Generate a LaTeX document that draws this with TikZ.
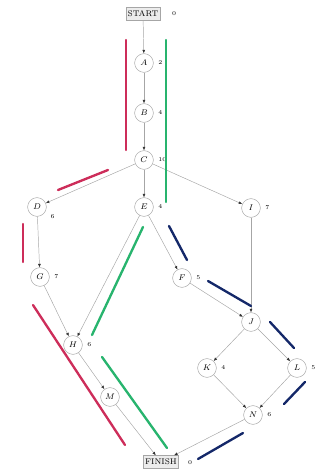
\documentclass[tikz,border=0pt]{standalone}
\usetikzlibrary{arrows.meta}
\definecolor{pathred}{RGB}{205,45,90}
\definecolor{pathgreen}{RGB}{40,180,110}
\definecolor{pathblue}{RGB}{20,40,105}
\begin{document}
\begin{tikzpicture}[x=0.03cm,y=-0.03cm,every node/.style={font=\scriptsize},
  act/.style={circle,draw=gray!70,fill=white,minimum size=16pt,inner sep=0pt},
  term/.style={rectangle,draw=gray!70,fill=gray!15,minimum height=11pt,inner sep=1.5pt,font=\scriptsize},
  dur/.style={font=\tiny,text=black,label distance=0.5pt},
  edge/.style={gray!70,thin,-{Latex[length=3pt,width=2.5pt,color=black!80]}},
  hl/.style={line width=2pt,line cap=round}]
  \useasboundingbox (0,0) rectangle (320,475);
  \node[term] (start) at (143,14) {START};
  \node[dur] at (174,14) {$0$};
  \node[act,label={[dur]right:$2$}] (A) at (144,63) {$A$};
  \node[act,label={[dur]right:$4$}] (B) at (144,113) {$B$};
  \node[act,label={[dur]right:$10$}] (C) at (144,160) {$C$};
  \node[act,label={[dur]-20:$6$}] (D) at (37,207) {$D$};
  \node[act,label={[dur]right:$4$}] (E) at (144,207) {$E$};
  \node[act,label={[dur]right:$7$}] (I) at (251,208) {$I$};
  \node[act,label={[dur]right:$7$}] (G) at (40,277) {$G$};
  \node[act,label={[dur]right:$5$}] (F) at (182,278) {$F$};
  \node[act] (J) at (251,322) {$J$};
  \node[act,label={[dur]right:$6$}] (H) at (73,345) {$H$};
  \node[act,label={[dur]right:$4$}] (K) at (207,368) {$K$};
  \node[act,label={[dur]right:$5$}] (L) at (297,368) {$L$};
  \node[act] (M) at (110,397) {$M$};
  \node[act,label={[dur]right:$6$}] (N) at (253,415) {$N$};
  \node[term] (finish) at (161,462) {FINISH};
  \node[dur] at (190,463) {$0$};
  \draw[edge] (start) -- (A);
  \draw[edge] (A) -- (B);
  \draw[edge] (B) -- (C);
  \draw[edge] (C) -- (D);
  \draw[edge] (C) -- (E);
  \draw[edge] (C) -- (I);
  \draw[edge] (D) -- (G);
  \draw[edge] (G) -- (H);
  \draw[edge] (E) -- (H);
  \draw[edge] (E) -- (F);
  \draw[edge] (F) -- (J);
  \draw[edge] (I) -- (J);
  \draw[edge] (J) -- (K);
  \draw[edge] (J) -- (L);
  \draw[edge] (K) -- (N);
  \draw[edge] (L) -- (N);
  \draw[edge] (H) -- (M);
  \draw[edge] (M) -- (finish);
  \draw[edge] (N) -- (finish);
  \draw[hl,pathred] (126,40)--(126,150);
  \draw[hl,pathred] (58,190)--(108,170);
  \draw[hl,pathred] (23,224)--(23,262);
  \draw[hl,pathred] (33,305)--(125,445);
  \draw[hl,pathgreen] (166,40)--(166,202);
  \draw[hl,pathgreen] (143,227)--(92,335);
  \draw[hl,pathgreen] (102,357)--(167,448);
  \draw[hl,pathblue] (169,226)--(187,260);
  \draw[hl,pathblue] (208,281)--(251,306);
  \draw[hl,pathblue] (270,322)--(294,348);
  \draw[hl,pathblue] (305,382)--(284,404);
  \draw[hl,pathblue] (243,433)--(198,459);
\end{tikzpicture}
\end{document}
